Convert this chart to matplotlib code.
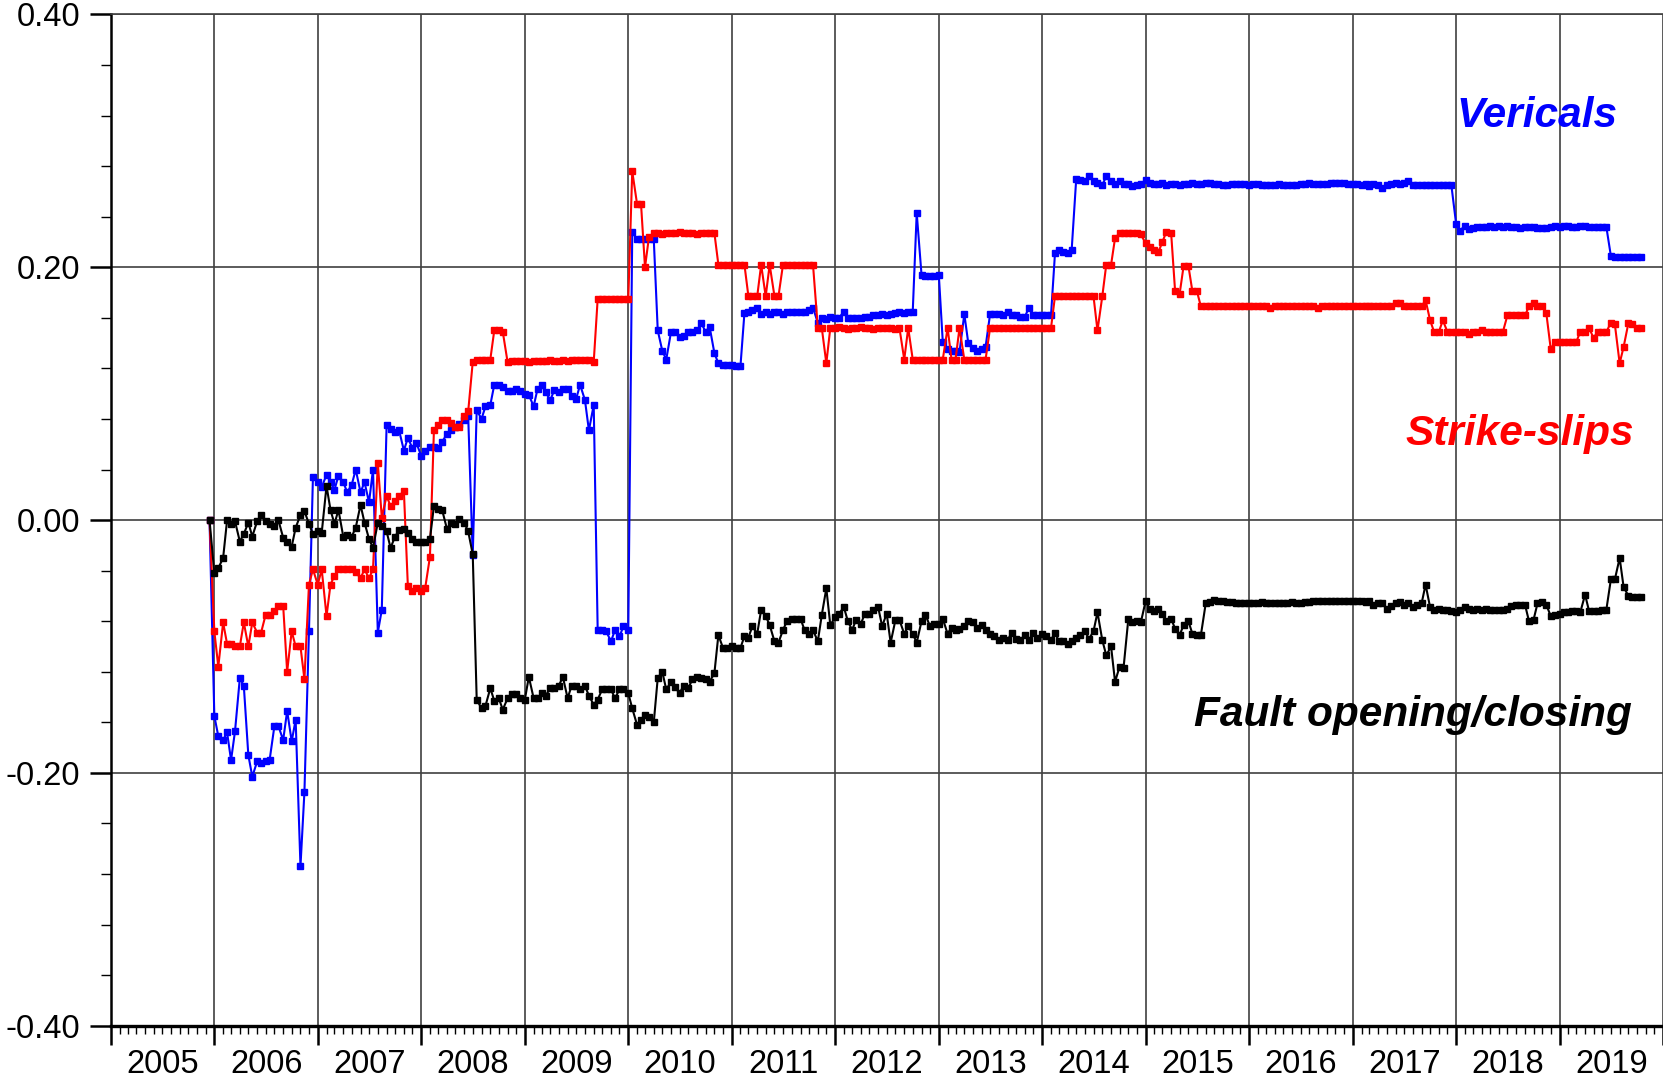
import datetime as dt
import numpy as np
import pandas as pd
import matplotlib
matplotlib.use("Agg")
import matplotlib.pyplot as plt
import matplotlib.dates as mdates
import matplotlib.transforms as mtransforms
from matplotlib.ticker import MultipleLocator

plt.rcParams['font.family'] = ['Liberation Sans', 'DejaVu Sans']

# semi-monthly observation dates (1st and 15th of each month)
dates = pd.date_range('2005-12-15', '2019-10-15', freq='SMS')

years = list(range(2005, 2021))
year_labels = [str(y) for y in years[:-1]] + ['']
y_ticks = [-0.40, -0.20, 0.00, 0.20, 0.40]
y_labels = ['-0.40', '-0.20', '0.00', '0.20', '0.40']

# Verticals (blue)
vert = [0.0,
    -0.155, -0.171, -0.174, -0.168, -0.190, -0.167, -0.125, -0.131, -0.186, -0.203, -0.191, -0.192, -0.191, -0.190, -0.163, -0.163, -0.174, -0.151, -0.175, -0.158, -0.274, -0.215, -0.088, 0.034,
    0.030, 0.026, 0.036, 0.030, 0.024, 0.035, 0.030, 0.022, 0.028, 0.040, 0.022, 0.030, 0.014, 0.040, -0.089, -0.071, 0.075, 0.072, 0.070, 0.071, 0.055, 0.065, 0.057, 0.061,
    0.051, 0.055, 0.058, 0.058, 0.057, 0.062, 0.068, 0.071, 0.074, 0.076, 0.079, 0.082, -0.028, 0.087, 0.080, 0.090, 0.091, 0.107, 0.107, 0.105, 0.102, 0.102, 0.104, 0.102,
    0.100, 0.099, 0.090, 0.104, 0.107, 0.101, 0.095, 0.103, 0.101, 0.104, 0.104, 0.098, 0.096, 0.107, 0.095, 0.071, 0.091, -0.087, -0.087, -0.088, -0.096, -0.087, -0.092, -0.084,
    -0.087, 0.228, 0.222, 0.222, 0.222, 0.222, 0.222, 0.150, 0.134, 0.127, 0.149, 0.149, 0.145, 0.146, 0.149, 0.149, 0.150, 0.156, 0.149, 0.153, 0.132, 0.124, 0.123, 0.123,
    0.123, 0.122, 0.122, 0.164, 0.165, 0.166, 0.168, 0.163, 0.165, 0.163, 0.165, 0.165, 0.163, 0.165, 0.165, 0.165, 0.165, 0.165, 0.166, 0.168, 0.156, 0.160, 0.159, 0.161,
    0.160, 0.160, 0.165, 0.160, 0.160, 0.160, 0.160, 0.161, 0.161, 0.162, 0.162, 0.163, 0.162, 0.163, 0.164, 0.165, 0.164, 0.165, 0.165, 0.243, 0.194, 0.193, 0.193, 0.193,
    0.194, 0.141, 0.135, 0.134, 0.134, 0.133, 0.163, 0.140, 0.136, 0.134, 0.135, 0.137, 0.163, 0.163, 0.163, 0.162, 0.165, 0.162, 0.162, 0.161, 0.161, 0.168, 0.162, 0.162,
    0.162, 0.162, 0.162, 0.211, 0.214, 0.212, 0.211, 0.214, 0.270, 0.269, 0.268, 0.272, 0.268, 0.267, 0.265, 0.272, 0.268, 0.266, 0.268, 0.266, 0.266, 0.264, 0.265, 0.266,
    0.269, 0.267, 0.266, 0.266, 0.267, 0.265, 0.266, 0.266, 0.265, 0.266, 0.266, 0.267, 0.266, 0.266, 0.267, 0.267, 0.266, 0.266, 0.265, 0.265, 0.266, 0.266, 0.266, 0.266,
    0.265, 0.266, 0.266, 0.265, 0.265, 0.265, 0.265, 0.266, 0.265, 0.265, 0.265, 0.265, 0.266, 0.266, 0.267, 0.266, 0.266, 0.266, 0.266, 0.267, 0.267, 0.267, 0.267, 0.266,
    0.266, 0.266, 0.265, 0.266, 0.264, 0.266, 0.265, 0.263, 0.265, 0.266, 0.267, 0.266, 0.267, 0.268, 0.265, 0.265, 0.265, 0.265, 0.265, 0.265, 0.265, 0.265, 0.265, 0.265,
    0.234, 0.229, 0.233, 0.230, 0.231, 0.232, 0.232, 0.232, 0.233, 0.232, 0.233, 0.232, 0.233, 0.232, 0.232, 0.231, 0.232, 0.232, 0.232, 0.231, 0.231, 0.231, 0.232, 0.233,
    0.232, 0.233, 0.233, 0.232, 0.232, 0.233, 0.233, 0.232, 0.232, 0.232, 0.232, 0.232, 0.209, 0.208, 0.208, 0.208, 0.208, 0.208, 0.208, 0.208]

# Strike-slips (red)
strike = [0.0,
    -0.088, -0.116, -0.081, -0.098, -0.098, -0.100, -0.100, -0.081, -0.100, -0.081, -0.089, -0.089, -0.075, -0.075, -0.072, -0.068, -0.068, -0.120, -0.088, -0.100, -0.100, -0.126, -0.051, -0.039,
    -0.051, -0.039, -0.076, -0.051, -0.044, -0.039, -0.039, -0.039, -0.039, -0.041, -0.046, -0.039, -0.046, -0.039, 0.045, 0.002, 0.019, 0.011, 0.015, 0.019, 0.023, -0.052, -0.056, -0.054,
    -0.056, -0.054, -0.029, 0.071, 0.075, 0.079, 0.079, 0.077, 0.074, 0.074, 0.082, 0.086, 0.125, 0.127, 0.127, 0.127, 0.127, 0.150, 0.150, 0.149, 0.125, 0.126, 0.126, 0.126,
    0.126, 0.125, 0.126, 0.126, 0.126, 0.126, 0.127, 0.126, 0.126, 0.127, 0.126, 0.127, 0.127, 0.127, 0.127, 0.127, 0.125, 0.175, 0.175, 0.175, 0.175, 0.175, 0.175, 0.175,
    0.175, 0.276, 0.250, 0.250, 0.200, 0.224, 0.227, 0.227, 0.226, 0.227, 0.227, 0.227, 0.228, 0.227, 0.227, 0.227, 0.226, 0.227, 0.227, 0.227, 0.227, 0.202, 0.202, 0.202,
    0.202, 0.202, 0.202, 0.202, 0.177, 0.177, 0.177, 0.202, 0.177, 0.202, 0.177, 0.177, 0.202, 0.202, 0.202, 0.202, 0.202, 0.202, 0.202, 0.202, 0.152, 0.152, 0.124, 0.152,
    0.152, 0.153, 0.152, 0.151, 0.152, 0.152, 0.153, 0.152, 0.152, 0.151, 0.152, 0.152, 0.152, 0.152, 0.151, 0.152, 0.127, 0.152, 0.127, 0.127, 0.127, 0.127, 0.127, 0.127,
    0.127, 0.127, 0.152, 0.127, 0.127, 0.152, 0.127, 0.127, 0.127, 0.127, 0.127, 0.127, 0.152, 0.152, 0.152, 0.152, 0.152, 0.152, 0.152, 0.152, 0.152, 0.152, 0.152, 0.152,
    0.152, 0.152, 0.152, 0.177, 0.177, 0.177, 0.177, 0.177, 0.177, 0.177, 0.177, 0.177, 0.177, 0.150, 0.177, 0.202, 0.202, 0.223, 0.227, 0.227, 0.227, 0.227, 0.227, 0.226,
    0.219, 0.216, 0.214, 0.212, 0.220, 0.228, 0.227, 0.181, 0.179, 0.201, 0.201, 0.181, 0.181, 0.169, 0.169, 0.169, 0.169, 0.169, 0.169, 0.169, 0.169, 0.169, 0.169, 0.169,
    0.169, 0.169, 0.169, 0.169, 0.169, 0.168, 0.169, 0.169, 0.169, 0.169, 0.169, 0.169, 0.169, 0.169, 0.169, 0.169, 0.168, 0.169, 0.169, 0.169, 0.169, 0.169, 0.169, 0.169,
    0.169, 0.169, 0.169, 0.169, 0.169, 0.169, 0.169, 0.169, 0.169, 0.169, 0.172, 0.172, 0.169, 0.169, 0.169, 0.169, 0.169, 0.174, 0.158, 0.149, 0.149, 0.158, 0.149, 0.149,
    0.149, 0.149, 0.149, 0.147, 0.149, 0.149, 0.150, 0.149, 0.149, 0.149, 0.149, 0.149, 0.162, 0.162, 0.162, 0.162, 0.162, 0.169, 0.172, 0.169, 0.169, 0.164, 0.135, 0.141,
    0.141, 0.141, 0.141, 0.141, 0.141, 0.149, 0.149, 0.152, 0.144, 0.149, 0.149, 0.149, 0.156, 0.155, 0.124, 0.137, 0.156, 0.155, 0.152, 0.152]

# Fault opening/closing (black)
opening = [0.0,
    -0.042, -0.038, -0.030, 0.000, -0.003, -0.001, -0.017, -0.011, -0.002, -0.013, -0.001, 0.004, -0.001, -0.003, -0.005, 0.000, -0.014, -0.017, -0.021, -0.006, 0.004, 0.007, -0.003, -0.011,
    -0.009, -0.010, 0.027, 0.008, -0.003, 0.008, -0.013, -0.012, -0.013, -0.006, 0.012, -0.002, -0.015, -0.022, -0.002, -0.005, -0.009, -0.022, -0.013, -0.008, -0.007, -0.010, -0.015, -0.017,
    -0.017, -0.017, -0.015, 0.011, 0.009, 0.008, -0.007, -0.002, -0.003, 0.001, -0.002, -0.009, -0.027, -0.142, -0.149, -0.147, -0.133, -0.143, -0.141, -0.150, -0.141, -0.138, -0.138, -0.141,
    -0.142, -0.124, -0.141, -0.141, -0.137, -0.139, -0.133, -0.133, -0.131, -0.124, -0.141, -0.131, -0.131, -0.134, -0.131, -0.139, -0.146, -0.142, -0.134, -0.134, -0.134, -0.141, -0.134, -0.134,
    -0.137, -0.149, -0.162, -0.158, -0.154, -0.156, -0.160, -0.125, -0.120, -0.134, -0.128, -0.132, -0.137, -0.131, -0.133, -0.126, -0.124, -0.125, -0.126, -0.128, -0.121, -0.091, -0.101, -0.101,
    -0.100, -0.101, -0.101, -0.092, -0.093, -0.084, -0.090, -0.071, -0.076, -0.083, -0.096, -0.097, -0.087, -0.080, -0.078, -0.078, -0.078, -0.087, -0.090, -0.087, -0.096, -0.075, -0.054, -0.083,
    -0.077, -0.074, -0.069, -0.080, -0.087, -0.079, -0.082, -0.074, -0.074, -0.071, -0.069, -0.084, -0.074, -0.097, -0.079, -0.079, -0.090, -0.084, -0.090, -0.097, -0.080, -0.075, -0.084, -0.082,
    -0.082, -0.078, -0.090, -0.085, -0.087, -0.086, -0.084, -0.080, -0.081, -0.085, -0.083, -0.087, -0.090, -0.092, -0.095, -0.093, -0.095, -0.089, -0.094, -0.095, -0.091, -0.095, -0.089, -0.093,
    -0.090, -0.092, -0.095, -0.089, -0.096, -0.096, -0.098, -0.096, -0.093, -0.091, -0.088, -0.094, -0.088, -0.073, -0.095, -0.107, -0.100, -0.128, -0.116, -0.117, -0.078, -0.081, -0.080, -0.081,
    -0.064, -0.070, -0.072, -0.070, -0.074, -0.080, -0.078, -0.086, -0.091, -0.083, -0.080, -0.090, -0.091, -0.091, -0.066, -0.065, -0.063, -0.064, -0.064, -0.065, -0.065, -0.066, -0.066, -0.066,
    -0.066, -0.066, -0.066, -0.065, -0.066, -0.066, -0.066, -0.066, -0.066, -0.066, -0.065, -0.066, -0.066, -0.065, -0.065, -0.064, -0.064, -0.064, -0.064, -0.064, -0.064, -0.064, -0.064, -0.064,
    -0.064, -0.064, -0.064, -0.065, -0.064, -0.067, -0.066, -0.066, -0.070, -0.068, -0.066, -0.065, -0.067, -0.066, -0.069, -0.067, -0.066, -0.051, -0.069, -0.071, -0.070, -0.071, -0.071, -0.072,
    -0.073, -0.071, -0.069, -0.070, -0.071, -0.070, -0.071, -0.070, -0.071, -0.071, -0.071, -0.071, -0.070, -0.068, -0.067, -0.067, -0.067, -0.080, -0.079, -0.066, -0.065, -0.067, -0.076, -0.075,
    -0.074, -0.073, -0.073, -0.072, -0.072, -0.073, -0.059, -0.072, -0.072, -0.072, -0.071, -0.071, -0.047, -0.047, -0.030, -0.053, -0.060, -0.061, -0.061, -0.061]

fig = plt.figure(figsize=(16.63, 10.81), dpi=100)
ax = fig.add_axes([0.0667, 0.0512, 0.9333, 0.9354])

mk = dict(marker='s', markersize=4.0, linewidth=1.5)
ax.plot(dates, vert, color='#0000ff', zorder=3, **mk)
ax.plot(dates, strike, color='#ff0000', zorder=4, **mk)
ax.plot(dates, opening, color='black', zorder=5, **mk)

ax.set_xlim(dt.datetime(2005, 1, 1), dt.datetime(2020, 1, 1))
ax.set_ylim(-0.4, 0.4)

ax.set_xticks([dt.datetime(y, 1, 1) for y in years], year_labels)
ax.xaxis.set_minor_locator(mdates.MonthLocator())
ax.set_yticks(y_ticks, y_labels)
ax.yaxis.set_minor_locator(MultipleLocator(0.04))

ax.grid(True, which='major', color='#404040', linewidth=1.2)
ax.tick_params(axis='x', which='major', direction='out', length=13.5, width=1.8, pad=3.5, labelsize=23.5)
ax.tick_params(axis='x', which='minor', direction='out', length=6, width=1.0)
ax.tick_params(axis='y', which='major', direction='out', length=15, width=1.8, pad=7, labelsize=23.5)
ax.tick_params(axis='y', which='minor', direction='out', length=7, width=1.0)

# year labels sit in the middle of each year
half_year = ax.get_position().width * fig.get_figwidth() / 30.0
shift = mtransforms.ScaledTranslation(half_year, 0, fig.dpi_scale_trans)
for lab in ax.get_xticklabels():
    lab.set_transform(lab.get_transform() + shift)

ax.spines['right'].set_visible(False)
ax.spines['top'].set_color('#404040')
ax.spines['top'].set_linewidth(1.2)
ax.spines['left'].set_linewidth(1.8)
ax.spines['bottom'].set_linewidth(2.4)

lab_style = dict(fontsize=30.5, fontweight='bold', fontstyle='italic',
                 ha='right', va='baseline', transform=ax.transAxes)
ax.text(0.9707, 0.889, 'Vericals', color='#0000ff', **lab_style)
ax.text(0.9813, 0.574, 'Strike-slips', color='#ff0000', **lab_style)
ax.text(0.9800, 0.296, 'Fault opening/closing', color='black', **lab_style)

fig.savefig('out.png', dpi=100)
